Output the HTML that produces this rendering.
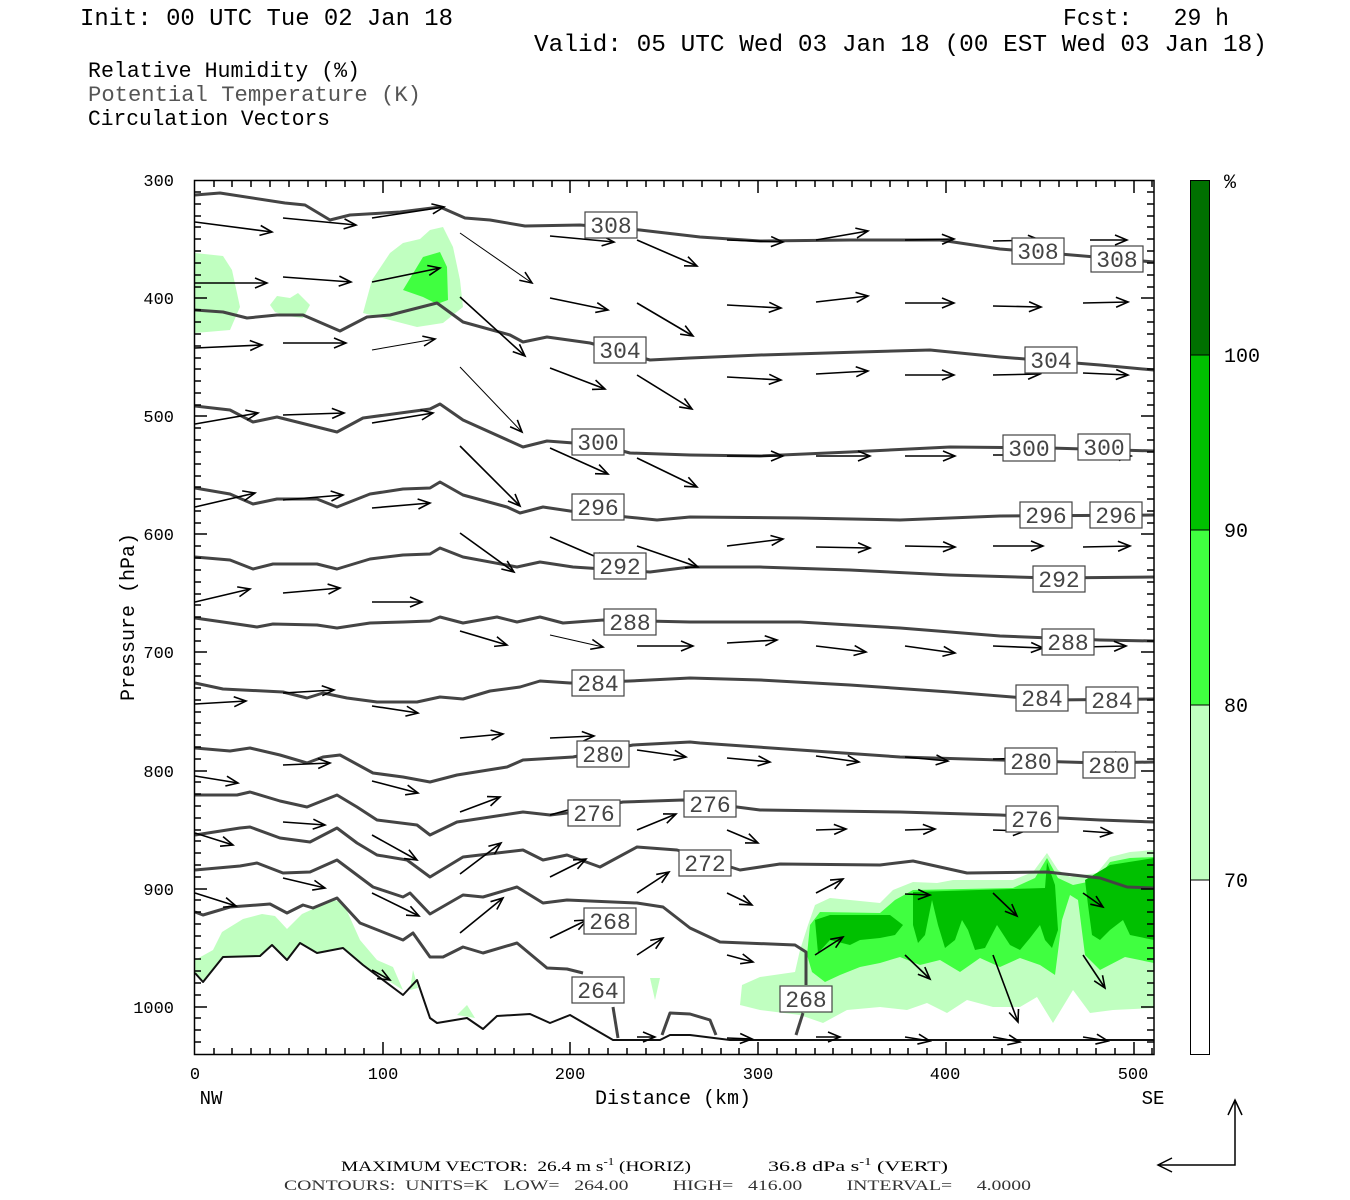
<!DOCTYPE html>
<html><head><meta charset="utf-8"><style>
html,body{margin:0;padding:0;background:#fff;}
svg{display:block;}
.c{fill:none;stroke:#444;stroke-width:3;stroke-linejoin:round;}
.s{fill:none;stroke:#111;stroke-width:2;stroke-linejoin:round;}
.a{stroke:#000;stroke-width:1.6;fill:none;}
.t{font-family:"Liberation Mono",monospace;}
.lb rect{fill:#fff;stroke:#444;stroke-width:1.2;}
.lb text{font-family:"Liberation Mono",monospace;font-size:23px;fill:#444;text-anchor:middle;}
.tk{stroke:#000;stroke-width:1.5;}
.pre{white-space:pre;}
</style></head><body>
<svg width="1350" height="1200" viewBox="0 0 1350 1200" xmlns="http://www.w3.org/2000/svg" xml:space="preserve">
<defs>
<marker id="h" markerWidth="16" markerHeight="12" refX="14" refY="6" orient="auto" markerUnits="userSpaceOnUse">
<path d="M2,1 L14,6 L2,11" fill="none" stroke="#000" stroke-width="1.6"/>
</marker>
</defs>
<rect width="1350" height="1200" fill="#fff"/>

<text class="t" x="80" y="25" font-size="24" textLength="373" lengthAdjust="spacingAndGlyphs">Init: 00 UTC Tue 02 Jan 18</text>
<text class="t pre" x="1063" y="25" font-size="24" textLength="166" lengthAdjust="spacingAndGlyphs">Fcst:   29 h</text>
<text class="t" x="534" y="51" font-size="24" textLength="733" lengthAdjust="spacingAndGlyphs">Valid: 05 UTC Wed 03 Jan 18 (00 EST Wed 03 Jan 18)</text>
<text class="t" x="88" y="77" font-size="22" textLength="272" lengthAdjust="spacingAndGlyphs">Relative Humidity (%)</text>
<text class="t" x="88" y="101" font-size="22" fill="#555" textLength="333" lengthAdjust="spacingAndGlyphs">Potential Temperature (K)</text>
<text class="t" x="88" y="125" font-size="22" textLength="242" lengthAdjust="spacingAndGlyphs">Circulation Vectors</text>

<g stroke="none">
<path fill="#c0ffc0" d="M195,253 L223,256 L232,270 L240,307 L230,330 L195,333 Z"/>
<path fill="#c0ffc0" d="M270,305 L277,296 L290,298 L298,293 L310,305 L303,318 L287,316 L275,312 Z"/>
<path fill="#c0ffc0" d="M363,313 L372,280 L390,253 L403,243 L420,239 L430,230 L443,227 L453,247 L460,280 L463,307 L443,323 L417,327 L390,320 Z"/>
<path fill="#40ff40" d="M403,290 L423,257 L440,252 L447,267 L448,300 L437,304 L423,297 Z"/>
<path fill="#c0ffc0" d="M195,960 L213,950 L222,932 L243,919 L262,914 L275,916 L287,929 L302,914 L333,900 L343,902 L360,940 L377,960 L393,967 L403,990 L363,965 L343,948 L317,953 L300,943 L287,960 L272,945 L260,956 L223,957 L203,982 L195,973 Z"/>
<path fill="#c0ffc0" d="M413,970 L418,988 L410,990 Z"/>
<path fill="#c0ffc0" d="M457,1015 L467,1005 L475,1018 Z"/>
<path fill="#c0ffc0" d="M650,978 L660,978 L655,1000 Z"/>
<path fill="#c0ffc0" d="M740,1005 L742,985 L760,977 L795,972 L800,950 L808,925 L815,905 L830,898 L880,903 L893,890 L913,882 L937,883 L953,880 L1013,880 L1033,872 L1047,853 L1058,870 L1070,877 L1097,873 L1110,857 L1130,852 L1154,850 L1154,1008 L1113,1010 L1090,1013 L1073,990 L1053,1023 L1037,997 L1020,1007 L993,1007 L967,1000 L947,1013 L927,1003 L907,1010 L880,1007 L847,1010 L823,1023 L800,1015 L760,1010 Z"/>
<path fill="#40ff40" d="M807,955 L810,925 L820,912 L880,913 L895,900 L913,890 L1013,888 L1035,878 L1047,858 L1058,878 L1073,885 L1097,880 L1110,862 L1130,858 L1154,857 L1154,963 L1125,957 L1100,970 L1085,955 L1078,900 L1070,895 L1062,920 L1055,975 L1040,965 L1020,958 L1000,967 L980,958 L960,972 L940,960 L920,965 L900,957 L880,963 L860,967 L840,975 L825,982 L812,972 Z"/>
<path fill="#00c000" d="M815,920 L830,915 L890,915 L903,925 L895,935 L880,938 L860,940 L850,945 L830,940 L818,953 Z"/>
<path fill="#00c000" d="M913,892 L1045,888 L1047,862 L1055,885 L1058,930 L1052,948 L1045,940 L1040,925 L1030,938 L1020,950 L1010,945 L997,925 L985,948 L975,950 L968,930 L962,920 L955,940 L945,948 L938,925 L932,900 L925,935 L918,943 L913,925 Z"/>
<path fill="#00c000" d="M1085,880 L1110,865 L1154,858 L1154,940 L1130,935 L1123,920 L1110,930 L1100,940 L1092,935 L1088,905 Z"/>
</g>

<g class="c">
<polyline points="195,195 220,193 285,203 305,205 330,220 350,215 400,212 440,207 465,218 490,220 525,226 580,225 640,230 700,237 760,241 850,240 940,240 1000,249 1060,254 1154,262"/>
<polyline points="195,310 223,312 247,318 277,315 303,315 340,331 367,317 390,315 437,303 463,322 510,335 523,342 547,337 590,343 650,360 690,358 760,355 860,352 930,350 1000,357 1100,365 1154,370"/>
<polyline points="195,406 230,410 253,422 277,417 337,432 363,418 430,409 440,404 463,420 523,447 547,441 600,445 630,453 690,455 760,456 850,452 950,447 1050,448 1154,451"/>
<polyline points="195,488 230,494 253,504 277,499 317,499 337,507 370,494 403,489 430,488 440,482 463,495 507,507 520,513 543,507 570,511 627,517 657,520 690,517 800,518 900,520 1000,516 1154,515"/>
<polyline points="195,557 230,560 253,569 273,564 317,564 337,569 370,559 403,555 430,554 440,548 463,557 517,567 540,562 573,567 650,572 690,567 760,567 850,570 950,575 1050,578 1154,577"/>
<polyline points="195,618 230,623 257,627 273,624 317,625 337,628 370,623 403,622 430,621 440,617 463,623 497,617 517,622 540,617 563,623 603,620 690,622 800,622 900,628 1000,636 1100,640 1154,641"/>
<polyline points="195,683 223,689 283,692 307,698 323,693 347,698 377,702 417,702 440,697 463,699 490,691 520,687 540,681 570,683 630,681 690,678 760,680 850,685 950,692 1050,700 1154,699"/>
<polyline points="195,748 230,751 250,748 280,755 307,763 323,757 340,755 373,773 403,777 430,782 457,775 507,767 523,760 573,757 633,745 690,742 700,743 800,750 900,757 1000,760 1100,763 1154,762"/>
<polyline points="195,795 237,795 250,792 280,801 307,807 337,795 357,807 377,820 417,825 430,835 457,822 523,812 550,815 567,813 623,802 683,800 760,810 900,812 1000,815 1100,820 1154,822"/>
<polyline points="195,835 240,828 250,827 280,838 310,842 337,828 357,843 377,855 407,860 430,877 463,857 523,850 543,860 567,855 600,867 637,847 677,850 740,870 780,864 880,865 913,861 967,873 1047,872 1100,878 1127,887 1154,888"/>
<polyline points="195,870 240,866 257,863 283,873 310,872 337,860 373,887 403,897 410,893 430,914 463,895 483,897 517,887 543,903 567,900 637,903 663,907 690,928 720,942 795,945 806,952 806,985"/>
<polyline points="803,1013 796,1035"/>
<polyline points="195,912 203,915 230,907 270,904 287,913 303,905 313,908 337,898 360,923 403,940 413,933 430,957 443,957 463,947 483,953 517,943 547,968 567,969 583,973"/>
<polyline points="613,1007 618,1038"/>
<polyline points="662,1035 670,1013 690,1014 710,1020 716,1035"/>
</g>
<polyline class="s" points="195,973 203,982 223,957 260,956 272,945 287,960 300,943 317,953 343,948 363,965 403,995 417,980 430,1018 437,1023 467,1018 483,1029 497,1016 530,1014 550,1023 570,1015 613,1040 660,1040 670,1035 690,1035 730,1040 1154,1040"/>

<g class="a" marker-end="url(#h)">
<line x1="195" y1="222" x2="272" y2="232"/><line x1="283" y1="218" x2="356" y2="225"/><line x1="372" y1="218" x2="444" y2="207"/><line x1="460" y1="233" x2="532" y2="283" stroke-width="1"/><line x1="550" y1="236" x2="614" y2="242"/><line x1="637" y1="240" x2="697" y2="266"/><line x1="727" y1="240" x2="783" y2="242"/><line x1="816" y1="240" x2="868" y2="231"/><line x1="905" y1="240" x2="954" y2="239"/><line x1="993" y1="241" x2="1040" y2="240"/><line x1="1090" y1="240" x2="1127" y2="240"/>
<line x1="195" y1="283" x2="267" y2="283"/><line x1="283" y1="277" x2="351" y2="282"/><line x1="372" y1="282" x2="440" y2="268"/><line x1="460" y1="297" x2="525" y2="356"/><line x1="550" y1="298" x2="608" y2="310"/><line x1="637" y1="303" x2="693" y2="336"/><line x1="727" y1="305" x2="781" y2="308"/><line x1="816" y1="302" x2="868" y2="296"/><line x1="905" y1="303" x2="954" y2="303"/><line x1="993" y1="306" x2="1041" y2="307"/><line x1="1083" y1="303" x2="1128" y2="302"/>
<line x1="195" y1="348" x2="262" y2="345"/><line x1="283" y1="343" x2="346" y2="343"/><line x1="372" y1="350" x2="435" y2="339" stroke-width="1"/><line x1="460" y1="367" x2="522" y2="432" stroke-width="1"/><line x1="550" y1="368" x2="605" y2="389"/><line x1="637" y1="375" x2="692" y2="409"/><line x1="727" y1="377" x2="781" y2="380"/><line x1="816" y1="374" x2="868" y2="371"/><line x1="905" y1="375" x2="954" y2="375"/><line x1="993" y1="375" x2="1040" y2="374"/><line x1="1083" y1="373" x2="1128" y2="375"/>
<line x1="195" y1="424" x2="258" y2="413"/><line x1="283" y1="415" x2="344" y2="413"/><line x1="372" y1="423" x2="433" y2="413"/><line x1="460" y1="446" x2="520" y2="506"/><line x1="550" y1="448" x2="608" y2="474"/><line x1="637" y1="458" x2="697" y2="487"/><line x1="727" y1="456" x2="783" y2="456"/><line x1="816" y1="456" x2="870" y2="456"/><line x1="905" y1="456" x2="955" y2="456"/><line x1="993" y1="455" x2="1041" y2="455"/><line x1="1083" y1="454" x2="1131" y2="456"/>
<line x1="195" y1="507" x2="255" y2="493"/><line x1="283" y1="500" x2="343" y2="495"/><line x1="372" y1="508" x2="430" y2="503"/><line x1="460" y1="533" x2="514" y2="572"/><line x1="550" y1="537" x2="608" y2="562"/><line x1="637" y1="546" x2="698" y2="567"/><line x1="727" y1="546" x2="783" y2="539"/><line x1="816" y1="547" x2="870" y2="548"/><line x1="905" y1="546" x2="955" y2="547"/><line x1="993" y1="546" x2="1043" y2="546"/><line x1="1083" y1="547" x2="1130" y2="546"/>
<line x1="195" y1="602" x2="250" y2="589"/><line x1="283" y1="593" x2="340" y2="588"/><line x1="372" y1="602" x2="422" y2="602"/><line x1="460" y1="631" x2="507" y2="645"/><line x1="550" y1="635" x2="603" y2="647" stroke-width="1"/><line x1="637" y1="646" x2="693" y2="646"/><line x1="727" y1="643" x2="777" y2="640"/><line x1="816" y1="646" x2="866" y2="652"/><line x1="905" y1="646" x2="955" y2="653"/><line x1="993" y1="646" x2="1043" y2="648"/><line x1="1083" y1="647" x2="1126" y2="646"/>
<line x1="195" y1="704" x2="246" y2="701"/><line x1="283" y1="693" x2="334" y2="690"/><line x1="372" y1="706" x2="418" y2="713"/><line x1="460" y1="738" x2="503" y2="734"/><line x1="550" y1="738" x2="594" y2="736"/><line x1="637" y1="750" x2="686" y2="757"/><line x1="727" y1="758" x2="770" y2="762"/><line x1="816" y1="756" x2="859" y2="762"/><line x1="905" y1="757" x2="948" y2="761"/><line x1="993" y1="759" x2="1037" y2="758"/><line x1="1083" y1="756" x2="1127" y2="757"/>
<line x1="195" y1="776" x2="238" y2="783"/><line x1="283" y1="765" x2="330" y2="763"/><line x1="372" y1="781" x2="418" y2="793"/><line x1="460" y1="812" x2="500" y2="797"/><line x1="550" y1="815" x2="593" y2="803"/><line x1="637" y1="830" x2="676" y2="814"/><line x1="727" y1="830" x2="758" y2="843"/><line x1="816" y1="830" x2="846" y2="829"/><line x1="905" y1="830" x2="935" y2="829"/><line x1="993" y1="830" x2="1025" y2="831"/><line x1="1083" y1="831" x2="1112" y2="833"/>
<line x1="195" y1="833" x2="233" y2="845"/><line x1="283" y1="822" x2="325" y2="825"/><line x1="372" y1="835" x2="417" y2="860"/><line x1="460" y1="874" x2="501" y2="843"/><line x1="550" y1="877" x2="586" y2="859"/><line x1="637" y1="893" x2="669" y2="872"/><line x1="727" y1="893" x2="752" y2="905"/><line x1="816" y1="893" x2="843" y2="879"/>
<line x1="195" y1="893" x2="236" y2="906"/><line x1="283" y1="878" x2="325" y2="888"/><line x1="372" y1="893" x2="419" y2="916"/><line x1="460" y1="933" x2="503" y2="898"/><line x1="550" y1="938" x2="587" y2="920"/><line x1="637" y1="955" x2="663" y2="938"/><line x1="727" y1="955" x2="753" y2="962"/><line x1="815" y1="955" x2="843" y2="937"/><line x1="905" y1="894" x2="930" y2="895"/><line x1="993" y1="893" x2="1017" y2="916"/><line x1="1083" y1="893" x2="1103" y2="907"/>
<line x1="372" y1="970" x2="390" y2="980"/><line x1="905" y1="955" x2="930" y2="979"/><line x1="993" y1="955" x2="1018" y2="1022"/><line x1="1083" y1="955" x2="1105" y2="988"/>
<line x1="637" y1="1037" x2="655" y2="1037"/><line x1="727" y1="1038" x2="752" y2="1039"/><line x1="816" y1="1037" x2="840" y2="1037"/><line x1="905" y1="1037" x2="930" y2="1041"/><line x1="993" y1="1037" x2="1020" y2="1042"/><line x1="1083" y1="1037" x2="1108" y2="1041"/>
</g>

<g class="lb">
<rect x="585" y="212" width="52" height="26"/><text x="611" y="233">308</text>
<rect x="1012" y="238" width="52" height="26"/><text x="1038" y="259">308</text>
<rect x="1091" y="246" width="52" height="26"/><text x="1117" y="267">308</text>
<rect x="594" y="337" width="52" height="26"/><text x="620" y="358">304</text>
<rect x="1025" y="347" width="52" height="26"/><text x="1051" y="368">304</text>
<rect x="572" y="429" width="52" height="26"/><text x="598" y="450">300</text>
<rect x="1003" y="435" width="52" height="26"/><text x="1029" y="456">300</text>
<rect x="1078" y="434" width="52" height="26"/><text x="1104" y="455">300</text>
<rect x="572" y="494" width="52" height="26"/><text x="598" y="515">296</text>
<rect x="1020" y="502" width="52" height="26"/><text x="1046" y="523">296</text>
<rect x="1090" y="502" width="52" height="26"/><text x="1116" y="523">296</text>
<rect x="594" y="553" width="52" height="26"/><text x="620" y="574">292</text>
<rect x="1033" y="566" width="52" height="26"/><text x="1059" y="587">292</text>
<rect x="604" y="609" width="52" height="26"/><text x="630" y="630">288</text>
<rect x="1042" y="629" width="52" height="26"/><text x="1068" y="650">288</text>
<rect x="572" y="670" width="52" height="26"/><text x="598" y="691">284</text>
<rect x="1016" y="685" width="52" height="26"/><text x="1042" y="706">284</text>
<rect x="1086" y="687" width="52" height="26"/><text x="1112" y="708">284</text>
<rect x="577" y="741" width="52" height="26"/><text x="603" y="762">280</text>
<rect x="1005" y="748" width="52" height="26"/><text x="1031" y="769">280</text>
<rect x="1083" y="752" width="52" height="26"/><text x="1109" y="773">280</text>
<rect x="568" y="800" width="52" height="26"/><text x="594" y="821">276</text>
<rect x="684" y="791" width="52" height="26"/><text x="710" y="812">276</text>
<rect x="1006" y="806" width="52" height="26"/><text x="1032" y="827">276</text>
<rect x="679" y="850" width="52" height="26"/><text x="705" y="871">272</text>
<rect x="584" y="908" width="52" height="26"/><text x="610" y="929">268</text>
<rect x="780" y="986" width="52" height="26"/><text x="806" y="1007">268</text>
<rect x="572" y="977" width="52" height="26"/><text x="598" y="998">264</text>
</g>

<rect x="194.5" y="180.5" width="959.5" height="874" fill="none" stroke="#000" stroke-width="1.5"/>
<g class="tk">
<path d="M194,192h7M194,204h7M194,216h7M194,227h7M194,239h7M194,251h7M194,263h7M194,275h7M194,287h7M194,298h13M194,310h7M194,322h7M194,334h7M194,346h7M194,358h7M194,369h7M194,381h7M194,393h7M194,405h7M194,416h13M194,428h7M194,440h7M194,452h7M194,464h7M194,476h7M194,487h7M194,499h7M194,511h7M194,523h7M194,534h13M194,546h7M194,558h7M194,570h7M194,582h7M194,594h7M194,605h7M194,617h7M194,629h7M194,641h7M194,652h13M194,664h7M194,676h7M194,688h7M194,700h7M194,712h7M194,723h7M194,735h7M194,747h7M194,759h7M194,771h13M194,782h7M194,794h7M194,806h7M194,818h7M194,830h7M194,841h7M194,853h7M194,865h7M194,877h7M194,889h13M194,900h7M194,912h7M194,924h7M194,936h7M194,948h7M194,959h7M194,971h7M194,983h7M194,995h7M194,1007h13M194,1018h7M194,1030h7M194,1042h7"/>
<path d="M1154,192h-7M1154,204h-7M1154,216h-7M1154,227h-7M1154,239h-7M1154,251h-7M1154,263h-7M1154,275h-7M1154,287h-7M1154,298h-13M1154,310h-7M1154,322h-7M1154,334h-7M1154,346h-7M1154,358h-7M1154,369h-7M1154,381h-7M1154,393h-7M1154,405h-7M1154,416h-13M1154,428h-7M1154,440h-7M1154,452h-7M1154,464h-7M1154,476h-7M1154,487h-7M1154,499h-7M1154,511h-7M1154,523h-7M1154,534h-13M1154,546h-7M1154,558h-7M1154,570h-7M1154,582h-7M1154,594h-7M1154,605h-7M1154,617h-7M1154,629h-7M1154,641h-7M1154,652h-13M1154,664h-7M1154,676h-7M1154,688h-7M1154,700h-7M1154,712h-7M1154,723h-7M1154,735h-7M1154,747h-7M1154,759h-7M1154,771h-13M1154,782h-7M1154,794h-7M1154,806h-7M1154,818h-7M1154,830h-7M1154,841h-7M1154,853h-7M1154,865h-7M1154,877h-7M1154,889h-13M1154,900h-7M1154,912h-7M1154,924h-7M1154,936h-7M1154,948h-7M1154,959h-7M1154,971h-7M1154,983h-7M1154,995h-7M1154,1007h-13M1154,1018h-7M1154,1030h-7M1154,1042h-7"/>
<path d="M214,180v7M232,180v7M251,180v7M270,180v7M289,180v7M308,180v7M326,180v7M345,180v7M364,180v7M383,180v13M401,180v7M420,180v7M439,180v7M458,180v7M477,180v7M495,180v7M514,180v7M533,180v7M552,180v7M570,180v13M589,180v7M608,180v7M627,180v7M646,180v7M664,180v7M683,180v7M702,180v7M721,180v7M739,180v7M758,180v13M777,180v7M796,180v7M815,180v7M833,180v7M852,180v7M871,180v7M890,180v7M908,180v7M927,180v7M946,180v13M965,180v7M984,180v7M1002,180v7M1021,180v7M1040,180v7M1059,180v7M1077,180v7M1096,180v7M1115,180v7M1134,180v13M1152,180v7"/>
<path d="M214,1055v-7M232,1055v-7M251,1055v-7M270,1055v-7M289,1055v-7M308,1055v-7M326,1055v-7M345,1055v-7M364,1055v-7M383,1055v-13M401,1055v-7M420,1055v-7M439,1055v-7M458,1055v-7M477,1055v-7M495,1055v-7M514,1055v-7M533,1055v-7M552,1055v-7M570,1055v-13M589,1055v-7M608,1055v-7M627,1055v-7M646,1055v-7M664,1055v-7M683,1055v-7M702,1055v-7M721,1055v-7M739,1055v-7M758,1055v-13M777,1055v-7M796,1055v-7M815,1055v-7M833,1055v-7M852,1055v-7M871,1055v-7M890,1055v-7M908,1055v-7M927,1055v-7M946,1055v-13M965,1055v-7M984,1055v-7M1002,1055v-7M1021,1055v-7M1040,1055v-7M1059,1055v-7M1077,1055v-7M1096,1055v-7M1115,1055v-7M1134,1055v-13M1152,1055v-7"/>
</g>

<g font-family="Liberation Mono, monospace" font-size="17" text-anchor="end">
<text x="174" y="186">300</text><text x="174" y="304">400</text><text x="174" y="422">500</text><text x="174" y="540">600</text><text x="174" y="658">700</text><text x="174" y="777">800</text><text x="174" y="895">900</text><text x="174" y="1013">1000</text>
</g>
<g font-family="Liberation Mono, monospace" font-size="17" text-anchor="middle">
<text x="195" y="1079">0</text><text x="383" y="1079">100</text><text x="570" y="1079">200</text><text x="758" y="1079">300</text><text x="945" y="1079">400</text><text x="1133" y="1079">500</text>
<text x="211" y="1104" font-size="19">NW</text><text x="1153" y="1104" font-size="19">SE</text>
<text x="673" y="1104" font-size="20">Distance (km)</text>
</g>
<text transform="translate(134,617) rotate(-90)" font-family="Liberation Mono, monospace" font-size="20" text-anchor="middle">Pressure (hPa)</text>

<rect x="1190" y="180" width="19" height="175" fill="#007000"/>
<rect x="1190" y="355" width="19" height="175" fill="#00c000"/>
<rect x="1190" y="530" width="19" height="175" fill="#40ff40"/>
<rect x="1190" y="705" width="19" height="175" fill="#c0ffc0"/>
<rect x="1190" y="880" width="19" height="174" fill="#fff"/>
<g stroke="#000" stroke-width="1"><line x1="1190" y1="355" x2="1209" y2="355"/><line x1="1190" y1="530" x2="1209" y2="530"/><line x1="1190" y1="705" x2="1209" y2="705"/><line x1="1190" y1="880" x2="1209" y2="880"/></g>
<rect x="1190.5" y="180.5" width="19" height="874" fill="none" stroke="#000" stroke-width="1"/>
<g font-family="Liberation Mono, monospace" font-size="20">
<text x="1224" y="188">%</text><text x="1224" y="362">100</text><text x="1224" y="537">90</text><text x="1224" y="712">80</text><text x="1224" y="887">70</text>
</g>

<text class="pre" x="341" y="1171" font-family="Liberation Serif, serif" font-size="15" textLength="350" lengthAdjust="spacingAndGlyphs">MAXIMUM VECTOR:  26.4 m s<tspan dy="-6" font-size="10">-1</tspan><tspan dy="6"> (HORIZ)</tspan></text>
<text class="pre" x="768" y="1171" font-family="Liberation Serif, serif" font-size="15" textLength="180" lengthAdjust="spacingAndGlyphs">36.8 dPa s<tspan dy="-6" font-size="10">-1</tspan><tspan dy="6"> (VERT)</tspan></text>
<text class="pre" x="284" y="1190" font-family="Liberation Serif, serif" font-size="15" fill="#333" textLength="747" lengthAdjust="spacingAndGlyphs">CONTOURS:  UNITS=K   LOW=   264.00         HIGH=   416.00         INTERVAL=     4.0000</text>
<path d="M1235,1100 V1165 H1158" fill="none" stroke="#000" stroke-width="1.5"/>
<path d="M1228,1115 L1235,1100 L1242,1115 M1172,1158 L1158,1165 L1172,1172" fill="none" stroke="#000" stroke-width="1.5"/>
</svg>
</body></html>
